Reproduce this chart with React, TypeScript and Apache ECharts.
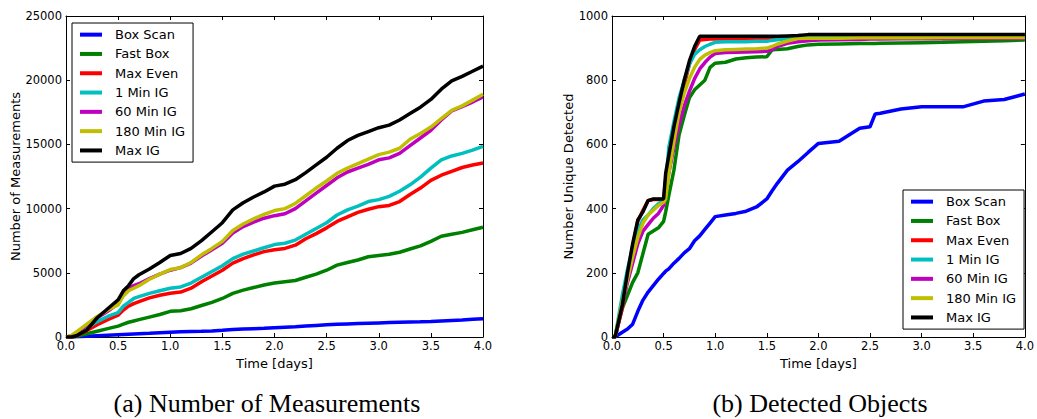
import React, { useEffect, useRef } from "react";
import * as echarts from "echarts";

const seriesNames = ["Box Scan", "Fast Box", "Max Even", "1 Min IG", "60 Min IG", "180 Min IG", "Max IG"];
const seriesColors = ["#0000ff", "#008000", "#ff0000", "#00bfbf", "#bf00bf", "#bfbf00", "#000000"];

// Left chart: Number of Measurements
const timeA = [0, 0.05, 0.1, 0.2, 0.3, 0.4, 0.5, 0.55, 0.6, 0.65, 0.7, 0.8, 0.9, 1.0, 1.1, 1.2, 1.3, 1.4, 1.5, 1.6, 1.7, 1.8, 1.9, 2.0, 2.1, 2.2, 2.3, 2.4, 2.5, 2.6, 2.7, 2.8, 2.9, 3.0, 3.1, 3.2, 3.3, 3.4, 3.5, 3.6, 3.7, 3.8, 3.9, 4.0];
const boxScanA = [0, 0, 20, 60, 100, 140, 180, 200, 220, 240, 260, 290, 330, 370, 400, 420, 440, 470, 520, 580, 620, 650, 680, 720, 760, 800, 850, 900, 950, 990, 1020, 1050, 1080, 1100, 1120, 1140, 1160, 1180, 1210, 1250, 1290, 1330, 1380, 1420];
const fastBoxA = [0, 0, 50, 250, 450, 650, 850, 1000, 1150, 1250, 1350, 1550, 1750, 2000, 2050, 2200, 2450, 2700, 3000, 3400, 3650, 3850, 4050, 4200, 4300, 4400, 4650, 4900, 5200, 5600, 5800, 6000, 6250, 6350, 6450, 6600, 6850, 7100, 7450, 7850, 8000, 8150, 8350, 8550];
const maxEvenA = [0, 0, 100, 500, 950, 1350, 1700, 2100, 2400, 2600, 2750, 3050, 3250, 3400, 3500, 3800, 4300, 4750, 5200, 5750, 6100, 6400, 6650, 6800, 6900, 7150, 7650, 8050, 8500, 9000, 9350, 9700, 9950, 10150, 10250, 10550, 11100, 11600, 12200, 12600, 12900, 13200, 13400, 13550];
const min1A = [0, 50, 200, 700, 1200, 1600, 1900, 2400, 2700, 3000, 3150, 3400, 3600, 3800, 3900, 4200, 4650, 5100, 5550, 6100, 6450, 6700, 6950, 7200, 7300, 7550, 8000, 8450, 8900, 9500, 9900, 10200, 10550, 10700, 10950, 11350, 11850, 12450, 13150, 13800, 14100, 14300, 14550, 14850];
const min60A = [0, 80, 300, 900, 1500, 2000, 2600, 3300, 3800, 4000, 4150, 4550, 4900, 5200, 5400, 5750, 6300, 6800, 7300, 8100, 8600, 8950, 9250, 9450, 9600, 10000, 10600, 11200, 11800, 12400, 12850, 13150, 13450, 13800, 13950, 14300, 14900, 15500, 16100, 16900, 17600, 17950, 18300, 18700];
const min180A = [0, 100, 400, 1000, 1600, 2100, 2500, 3200, 3600, 3800, 4000, 4500, 4900, 5250, 5400, 5800, 6400, 6900, 7450, 8300, 8800, 9200, 9550, 9850, 10000, 10400, 11000, 11600, 12150, 12750, 13150, 13500, 13850, 14200, 14400, 14700, 15400, 15850, 16350, 17000, 17650, 18000, 18450, 18900];
const maxIGA = [0, 0, 100, 550, 1500, 2200, 2900, 3600, 4000, 4550, 4850, 5300, 5800, 6350, 6500, 6900, 7500, 8200, 8900, 9900, 10450, 10900, 11300, 11750, 11900, 12250, 12800, 13400, 14000, 14700, 15300, 15700, 16000, 16300, 16500, 16900, 17400, 17900, 18500, 19300, 19950, 20300, 20700, 21100];

// Right chart: Detected Objects
const timeB = [0, 0.03, 0.1, 0.15, 0.2, 0.25, 0.3, 0.35, 0.4, 0.45, 0.5, 0.52, 0.55, 0.6, 0.65, 0.7, 0.75, 0.8, 0.85, 0.9, 0.95, 1.0, 1.1, 1.2, 1.3, 1.4, 1.5, 1.55, 1.6, 1.7, 1.8, 1.9, 2.0, 2.2, 2.4, 2.5, 2.55, 2.6, 2.8, 3.0, 3.2, 3.4, 3.6, 3.8, 4.0];
const boxScanB = [0, 0, 15, 25, 40, 80, 115, 140, 160, 180, 198, 205, 212, 230, 245, 262, 275, 300, 315, 335, 355, 375, 380, 385, 392, 405, 430, 455, 478, 520, 546, 575, 603, 610, 650, 655, 695, 697, 710, 717, 717, 717, 735, 740, 757];
const fastBoxB = [0, 0, 90, 130, 170, 200, 260, 320, 330, 340, 360, 390, 440, 520, 630, 690, 745, 770, 785, 800, 840, 853, 856, 866, 870, 872, 873, 894, 896, 898, 905, 910, 912, 913, 914, 914, 914, 915, 916, 917, 918, 920, 921, 923, 925];
const maxEvenB = [0, 0, 90, 190, 280, 360, 395, 425, 428, 428, 428, 490, 545, 630, 710, 785, 850, 895, 925, 927, 928, 928, 928, 928, 928, 928, 928, 929, 932, 934, 935, 936, 937, 937, 938, 938, 938, 938, 939, 939, 939, 940, 940, 940, 940];
const min1B = [0, 0, 130, 210, 280, 330, 365, 380, 400, 415, 425, 470, 590, 670, 745, 800, 850, 880, 895, 905, 912, 918, 920, 920, 920, 921, 921, 924, 926, 930, 934, 935, 935, 935, 935, 935, 935, 935, 935, 935, 936, 936, 936, 936, 936];
const min60B = [0, 0, 100, 170, 230, 290, 330, 350, 370, 385, 410, 440, 510, 590, 660, 720, 765, 805, 835, 855, 872, 883, 886, 887, 888, 889, 890, 895, 905, 915, 920, 923, 925, 926, 927, 928, 928, 928, 929, 929, 929, 930, 930, 930, 930];
const min180B = [0, 0, 110, 180, 250, 310, 355, 380, 395, 410, 420, 430, 510, 610, 700, 760, 805, 840, 865, 878, 886, 892, 895, 896, 897, 898, 900, 905, 912, 922, 930, 931, 931, 931, 932, 932, 932, 932, 932, 932, 933, 933, 933, 933, 933];
const maxIGB = [0, 0, 100, 200, 290, 365, 390, 425, 430, 430, 430, 510, 565, 655, 730, 800, 860, 905, 937, 937, 937, 937, 937, 937, 937, 937, 937, 937, 937, 938, 939, 942, 942, 942, 942, 942, 942, 942, 942, 942, 942, 942, 942, 942, 942];

const xTicksA = { min: 0, max: 4, interval: 0.5 };
const yTicksA = { min: 0, max: 25000, interval: 5000 };
const yTicksB = { min: 0, max: 1000, interval: 200 };

const captionA = "(a) Number of Measurements";
const captionB = "(b) Detected Objects";

const valuesA = [boxScanA, fastBoxA, maxEvenA, min1A, min60A, min180A, maxIGA];
const valuesB = [boxScanB, fastBoxB, maxEvenB, min1B, min60B, min180B, maxIGB];

const FONT = "DejaVu Sans";

function pairs(t: number[], v: number[]) {
  return t.map((x, i) => [x, v[i]]);
}

function xAxes(gridIndex: number) {
  const common = {
    type: "value",
    gridIndex,
    min: xTicksA.min,
    max: xTicksA.max,
    interval: xTicksA.interval,
    splitLine: { show: false },
    axisLine: { show: true, onZero: false, lineStyle: { color: "#000", width: 1 } },
    axisTick: { show: true, inside: true, length: 4, lineStyle: { color: "#000" } },
  };
  return [
    {
      ...common,
      position: "bottom",
      name: "Time [days]",
      nameLocation: "middle",
      nameGap: 19,
      nameTextStyle: { fontFamily: FONT, fontSize: 13, color: "#000" },
      axisLabel: {
        fontFamily: FONT,
        fontSize: 11.5,
        color: "#000",
        margin: 3,
        formatter: (v: number) => v.toFixed(1),
      },
    },
    { ...common, position: "top", axisLabel: { show: false } },
  ];
}

function yAxes(gridIndex: number, ticks: any, name: string, nameGap: number) {
  const common = {
    type: "value",
    gridIndex,
    min: ticks.min,
    max: ticks.max,
    interval: ticks.interval,
    splitLine: { show: false },
    axisLine: { show: true, onZero: false, lineStyle: { color: "#000", width: 1 } },
    axisTick: { show: true, inside: true, length: 4, lineStyle: { color: "#000" } },
  };
  return [
    {
      ...common,
      position: "left",
      name,
      nameLocation: "middle",
      nameGap,
      nameTextStyle: { fontFamily: FONT, fontSize: 13, color: "#000" },
      axisLabel: {
        fontFamily: FONT,
        fontSize: 11.5,
        color: "#000",
        margin: 4,
        formatter: (v: number) => String(v),
      },
    },
    { ...common, position: "right", axisLabel: { show: false } },
  ];
}

function legend(left: number, top: number) {
  return {
    orient: "vertical",
    left,
    top,
    data: seriesNames,
    icon: "rect",
    itemWidth: 22,
    itemHeight: 4,
    itemGap: 4,
    padding: [4, 8, 4, 8],
    backgroundColor: "#fff",
    borderColor: "#000",
    borderWidth: 1,
    borderRadius: 0,
    selectedMode: false,
    textStyle: { fontFamily: FONT, fontSize: 13, color: "#000", lineHeight: 15.3, padding: [0, 0, 0, 8] },
  };
}

export default function App() {
  const ref = useRef<HTMLDivElement>(null);
  useEffect(() => {
    if (!ref.current) return;
    const chart = echarts.init(ref.current, null, { renderer: "svg" });
    const series: any[] = [];
    seriesNames.forEach((name, i) => {
      series.push({
        type: "line",
        name,
        xAxisIndex: 0,
        yAxisIndex: 0,
        data: pairs(timeA, valuesA[i]),
        showSymbol: false,
        symbol: "none",
        color: seriesColors[i],
        lineStyle: { color: seriesColors[i], width: 3.5 },
        itemStyle: { color: seriesColors[i] },
      });
    });
    seriesNames.forEach((name, i) => {
      series.push({
        type: "line",
        name,
        xAxisIndex: 2,
        yAxisIndex: 2,
        data: pairs(timeB, valuesB[i]),
        showSymbol: false,
        symbol: "none",
        color: seriesColors[i],
        lineStyle: { color: seriesColors[i], width: 3.5 },
        itemStyle: { color: seriesColors[i] },
      });
    });
    const captionStyle = {
      fontFamily: "Liberation Serif",
      fontSize: 26,
      fill: "#000",
      textAlign: "center",
      textVerticalAlign: "middle",
      align: "center",
      verticalAlign: "middle",
    };
    chart.setOption({
      animation: false,
      backgroundColor: "#fff",
      grid: [
        { left: 66, right: 554, top: 16, bottom: 82 },
        { left: 612, right: 7, top: 16, bottom: 82 },
      ],
      xAxis: [...xAxes(0), ...xAxes(1)],
      yAxis: [
        ...yAxes(0, yTicksA, "Number of Measurements", 44),
        ...yAxes(1, yTicksB, "Number Unique Detected", 36),
      ],
      legend: [legend(72, 23), legend(903, 190)],
      series,
      graphic: [
        { type: "text", x: 267, y: 403, style: { text: captionA, ...captionStyle } },
        { type: "text", x: 820, y: 403, style: { text: captionB, ...captionStyle } },
      ],
    });
    return () => chart.dispose();
  }, []);
  return (
    <div
      ref={ref}
      style={{ position: "absolute", left: 0, top: 0, width: 1037, height: 419 }}
    />
  );
}
